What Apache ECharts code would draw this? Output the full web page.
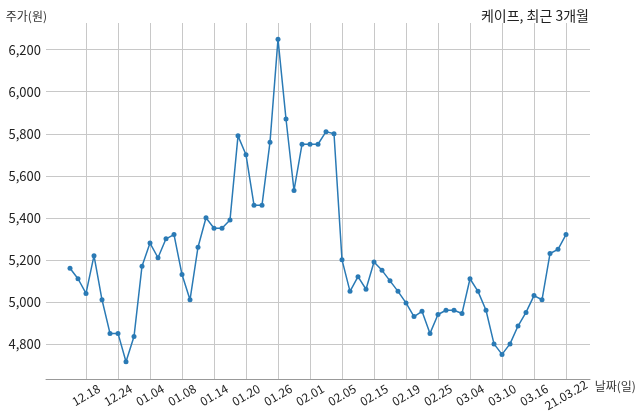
<!DOCTYPE html>
<html>
<head>
<meta charset="utf-8">
<script src="https://cdn.jsdelivr.net/npm/echarts@6/dist/echarts.min.js"></script>
<style>
html,body{margin:0;padding:0;background:#fff;}
#chart{width:640px;height:419px;}
</style>
</head>
<body>
<div id="chart"></div>
<script>
const dates = [
  '12.16','12.17','12.18','12.21','12.22','12.23','12.24','12.28','12.29','12.30',
  '01.04','01.05','01.06','01.07','01.08','01.11','01.12','01.13','01.14','01.15',
  '01.18','01.19','01.20','01.21','01.22','01.25','01.26','01.27','01.28','01.29',
  '02.01','02.02','02.03','02.04','02.05','02.08','02.09','02.10','02.15','02.16',
  '02.17','02.18','02.19','02.22','02.23','02.24','02.25','02.26','03.02','03.03',
  '03.04','03.05','03.08','03.09','03.10','03.11','03.12','03.15','03.16','03.17',
  '03.18','03.19','21.03.22'
];
const prices = [
  5160,5110,5040,5220,5010,4850,4850,4715,4835,5170,
  5280,5210,5300,5320,5130,5010,5260,5400,5350,5350,
  5390,5790,5700,5460,5460,5760,6250,5870,5530,5750,
  5750,5750,5810,5800,5200,5050,5120,5060,5190,5150,
  5100,5050,4995,4930,4955,4850,4940,4960,4960,4945,
  5110,5050,4960,4800,4750,4800,4885,4950,5030,5010,
  5230,5250,5320
];
const tickLabels = ['12.18','12.24','01.04','01.08','01.14','01.20','01.26','02.01',
  '02.05','02.15','02.19','02.25','03.04','03.10','03.16','21.03.22'];
const yTicks = [4800,5000,5200,5400,5600,5800,6000,6200];
const titleText = '케이프, 최근 3개월';
const yName = '주가(원)';
const xName = '날짜(일)';

const pad = 3;
const cats = [];
for (let i = 0; i < pad; i++) cats.push('');
dates.forEach(d => cats.push(d));
for (let i = 0; i < pad; i++) cats.push('');
const seriesData = [];
for (let i = 0; i < pad; i++) seriesData.push(null);
prices.forEach(p => seriesData.push(p));
for (let i = 0; i < pad; i++) seriesData.push(null);

const isTick = (idx, val) => tickLabels.indexOf(val) >= 0;
const font = '"Noto Sans CJK KR", "Noto Sans", sans-serif';

const chart = echarts.init(document.getElementById('chart'), null, {renderer: 'canvas'});
chart.setOption({
  animation: false,
  backgroundColor: '#fff',
  title: {
    text: titleText,
    right: 46,
    top: 4,
    textStyle: {fontFamily: font, fontSize: 14, fontWeight: 'normal', color: '#222'}
  },
  grid: {left: 46, right: 50, top: 23, bottom: 40, containLabel: false},
  xAxis: {
    type: 'category',
    data: cats,
    boundaryGap: false,
    name: xName,
    nameLocation: 'end',
    nameGap: 4,
    nameTextStyle: {fontFamily: font, fontSize: 12, color: '#333', align: 'left', verticalAlign: 'top', padding: [1, 0, 0, 0]},
    axisLine: {show: true, lineStyle: {color: '#999', width: 1}},
    axisTick: {show: false},
    axisLabel: {
      interval: isTick,
      rotate: 30,
      align: 'center',
      verticalAlign: 'middle',
      margin: 16,
      fontFamily: font,
      fontSize: 12,
      color: '#222'
    },
    splitLine: {show: true, interval: isTick, lineStyle: {color: '#c8c8c8', width: 1}}
  },
  yAxis: {
    type: 'value',
    min: 4633,
    max: 6327,
    minInterval: 200,
    maxInterval: 200,
    splitNumber: 8,
    name: yName,
    nameLocation: 'end',
    nameGap: 1,
    nameTextStyle: {fontFamily: font, fontSize: 12, color: '#333', align: 'right', padding: [0, -1, 0, 0]},
    axisLine: {show: false},
    axisTick: {show: false},
    axisLabel: {
      showMinLabel: false,
      showMaxLabel: false,
      margin: 5,
      fontFamily: font,
      fontSize: 13,
      color: '#222',
      formatter: v => yTicks.indexOf(v) >= 0 ? v.toLocaleString('en-US') : ''
    },
    splitLine: {show: true, showMinLine: false, showMaxLine: false, lineStyle: {color: '#c8c8c8', width: 1}}
  },
  series: [{
    type: 'line',
    data: seriesData,
    connectNulls: false,
    symbol: 'circle',
    symbolSize: 5,
    showAllSymbol: true,
    lineStyle: {color: '#2a7ab5', width: 1.5},
    itemStyle: {color: '#2a7ab5'}
  }]
});
</script>
</body>
</html>
